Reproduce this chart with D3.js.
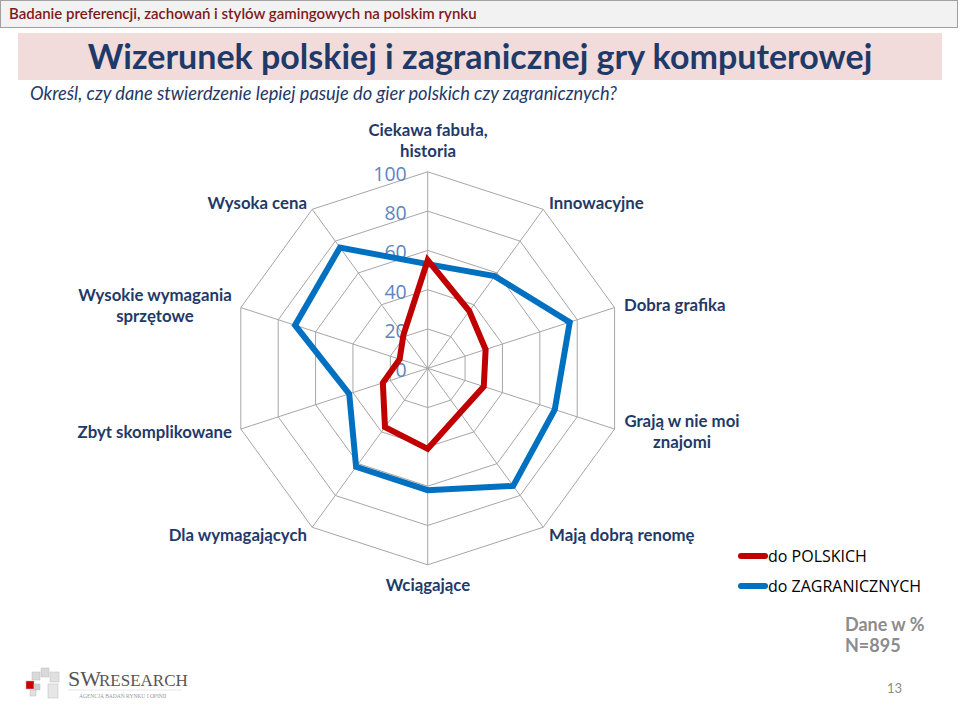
<!DOCTYPE html>
<html><head><meta charset="utf-8">
<script src="https://cdn.jsdelivr.net/npm/d3@7"></script>
<style>body{margin:0;background:#fff}svg{display:block}</style>
</head><body>
<svg id="c" width="960" height="708"></svg>
<script>
const categories = ["Ciekawa fabuła, historia","Innowacyjne","Dobra grafika","Grają w nie moi znajomi","Mają dobrą renomę","Wciągające","Dla wymagających","Zbyt skomplikowane","Wysokie wymagania sprzętowe","Wysoka cena"];
const polskich = [55, 36, 31, 30, 28, 41, 37, 24, 15, 21];
const zagranicznych = [53, 58, 76, 68, 74, 62, 62, 42, 71, 76];
const seriesNames = ["do POLSKICH","do ZAGRANICZNYCH"];
const ticks = [0, 20, 40, 60, 80, 100];

const svg = d3.select("#c");
const font = "Lato, 'Open Sans', sans-serif";
const navy = "#1f3a68";

// header bar
svg.append("rect").attr("x",0.5).attr("y",0.5).attr("width",957).attr("height",27)
  .attr("fill","#f2f2f2").attr("stroke","#a0a0a0");
svg.append("text").attr("x",9).attr("y",19).attr("fill","#7f1a1a")
  .attr("font-family",font).attr("font-weight",600).attr("font-size",15)
  .text("Badanie preferencji, zachowań i stylów gamingowych na polskim rynku");

// title band
svg.append("rect").attr("x",18).attr("y",33).attr("width",924).attr("height",47).attr("fill","#f2dcdb");
svg.append("text").attr("x",480).attr("y",69).attr("text-anchor","middle").attr("fill",navy)
  .attr("font-family",font).attr("font-weight",700).attr("font-size",34)
  .text("Wizerunek polskiej i zagranicznej gry komputerowej");
svg.append("text").attr("x",30).attr("y",100).attr("fill","#1f3a68")
  .attr("font-family",font).attr("font-style","italic").attr("font-weight",400).attr("font-size",18.3)
  .text("Określ, czy dane stwierdzenie lepiej pasuje do gier polskich czy zagranicznych?");

// radar
const cx = 427.7, cy = 368.3;
const r = d3.scaleLinear().domain([0,100]).range([0,196.5]);
const angle = d3.scaleLinear().domain([0, categories.length]).range([0, 2*Math.PI]);
const g = svg.append("g").attr("transform",`translate(${cx},${cy})`);

const ringLine = d3.lineRadial().angle((d,i)=>angle(i)).radius(d=>r(d)).curve(d3.curveLinearClosed);
ticks.filter(t=>t>0).forEach(t=>{
  g.append("path").attr("d", ringLine(categories.map(()=>t)))
    .attr("fill","none").attr("stroke","#a6a6a6").attr("stroke-width",1);
});
categories.forEach((c,i)=>{
  const a = angle(i);
  g.append("line").attr("x1",0).attr("y1",0)
    .attr("x2", r(100)*Math.sin(a)).attr("y2", -r(100)*Math.cos(a))
    .attr("stroke","#a6a6a6").attr("stroke-width",1);
});

// tick labels
ticks.forEach(t=>{
  g.append("text").attr("x",-21).attr("y",-r(t)+2).attr("dy","0.36em").attr("text-anchor","end")
    .attr("fill","#5f84c2").attr("font-family","'Open Sans', sans-serif").attr("font-weight",400).attr("font-size",19.5)
    .text(t);
});

// series
const seriesLine = d3.lineRadial().angle((d,i)=>angle(i)).radius(d=>r(d)).curve(d3.curveLinearClosed);
[[zagranicznych,"#0070c0"],[polskich,"#c00000"]].forEach(([vals,col])=>{
  g.append("path").attr("d", seriesLine(vals)).attr("fill","none")
    .attr("stroke",col).attr("stroke-width",6).attr("stroke-linejoin","miter");
});

// category labels
const labelPos = [
  {x:428, y:130, anchor:"middle", lines:["Ciekawa fabuła,","historia"]},
  {x:549, y:203, anchor:"start", lines:["Innowacyjne"]},
  {x:624, y:305, anchor:"start", lines:["Dobra grafika"]},
  {x:682, y:421, anchor:"middle", lines:["Grają w nie moi","znajomi"]},
  {x:549, y:535, anchor:"start", lines:["Mają dobrą renomę"]},
  {x:428, y:585, anchor:"middle", lines:["Wciągające"]},
  {x:307, y:535, anchor:"end", lines:["Dla wymagających"]},
  {x:232, y:432, anchor:"end", lines:["Zbyt skomplikowane"]},
  {x:155, y:295, anchor:"middle", lines:["Wysokie wymagania","sprzętowe"]},
  {x:307, y:203, anchor:"end", lines:["Wysoka cena"]}
];
categories.forEach((c,i)=>{
  const p = labelPos[i];
  const t = svg.append("text").attr("text-anchor",p.anchor).attr("fill",navy)
    .attr("font-family",font).attr("font-weight",700).attr("font-size",16.8);
  p.lines.forEach((ln,j)=>{
    t.append("tspan").attr("x",p.x).attr("y",p.y + j*21).attr("dy","0.35em").text(ln);
  });
});

// legend
const legCols = ["#c00000","#0070c0"];
seriesNames.forEach((n,i)=>{
  const y = 556 + i*30;
  svg.append("line").attr("x1",741).attr("x2",765).attr("y1",y).attr("y2",y)
    .attr("stroke",legCols[i]).attr("stroke-width",6).attr("stroke-linecap","round");
  svg.append("text").attr("x",768).attr("y",y).attr("dy","0.36em").attr("fill","#000")
    .attr("font-family","'Open Sans', sans-serif").attr("font-size",16).text(n);
});

// notes
svg.append("text").attr("x",845).attr("y",631).attr("fill","#8c8c8c").attr("font-family",font)
  .attr("font-weight",700).attr("font-size",18).text("Dane w %");
svg.append("text").attr("x",845).attr("y",652).attr("fill","#8c8c8c").attr("font-family",font)
  .attr("font-weight",700).attr("font-size",18).text("N=895");
svg.append("text").attr("x",887).attr("y",693).attr("fill","#8c8c8c").attr("font-family",font)
  .attr("font-size",13).text("13");

// logo
const lg = svg.append("g");
[[32,672,8,8,"#d9d9d9"],[41,668,8,9,"#d9d9d9"],[50,672,9,10,"#e0e0e0"],[26,681,8,8,"#cc0000"],[34,684,6,6,"#d0d0d0"],[48,684,10,14,"#e6e6e6"],[30,690,6,6,"#e0e0e0"]]
  .forEach(([x,y,w,h,c])=>lg.append("rect").attr("x",x).attr("y",y).attr("width",w).attr("height",h).attr("fill",c).attr("stroke","#bdbdbd").attr("stroke-width",0.5));
lg.append("text").attr("x",68).attr("y",686).attr("fill","#555").attr("font-family","'Liberation Serif', serif").attr("font-size",22).text("SW");
lg.append("text").attr("x",99).attr("y",686).attr("fill","#555").attr("font-family","'Liberation Serif', serif").attr("font-size",17).text("RESEARCH");
lg.append("line").attr("x1",68).attr("x2",182).attr("y1",690).attr("y2",690).attr("stroke","#ccc").attr("stroke-width",0.5);
lg.append("text").attr("x",79).attr("y",698).attr("fill","#999").attr("font-family","'Liberation Serif', serif").attr("font-size",5.5).text("AGENCJA BADAŃ RYNKU I OPINII");
</script>
</body></html>
